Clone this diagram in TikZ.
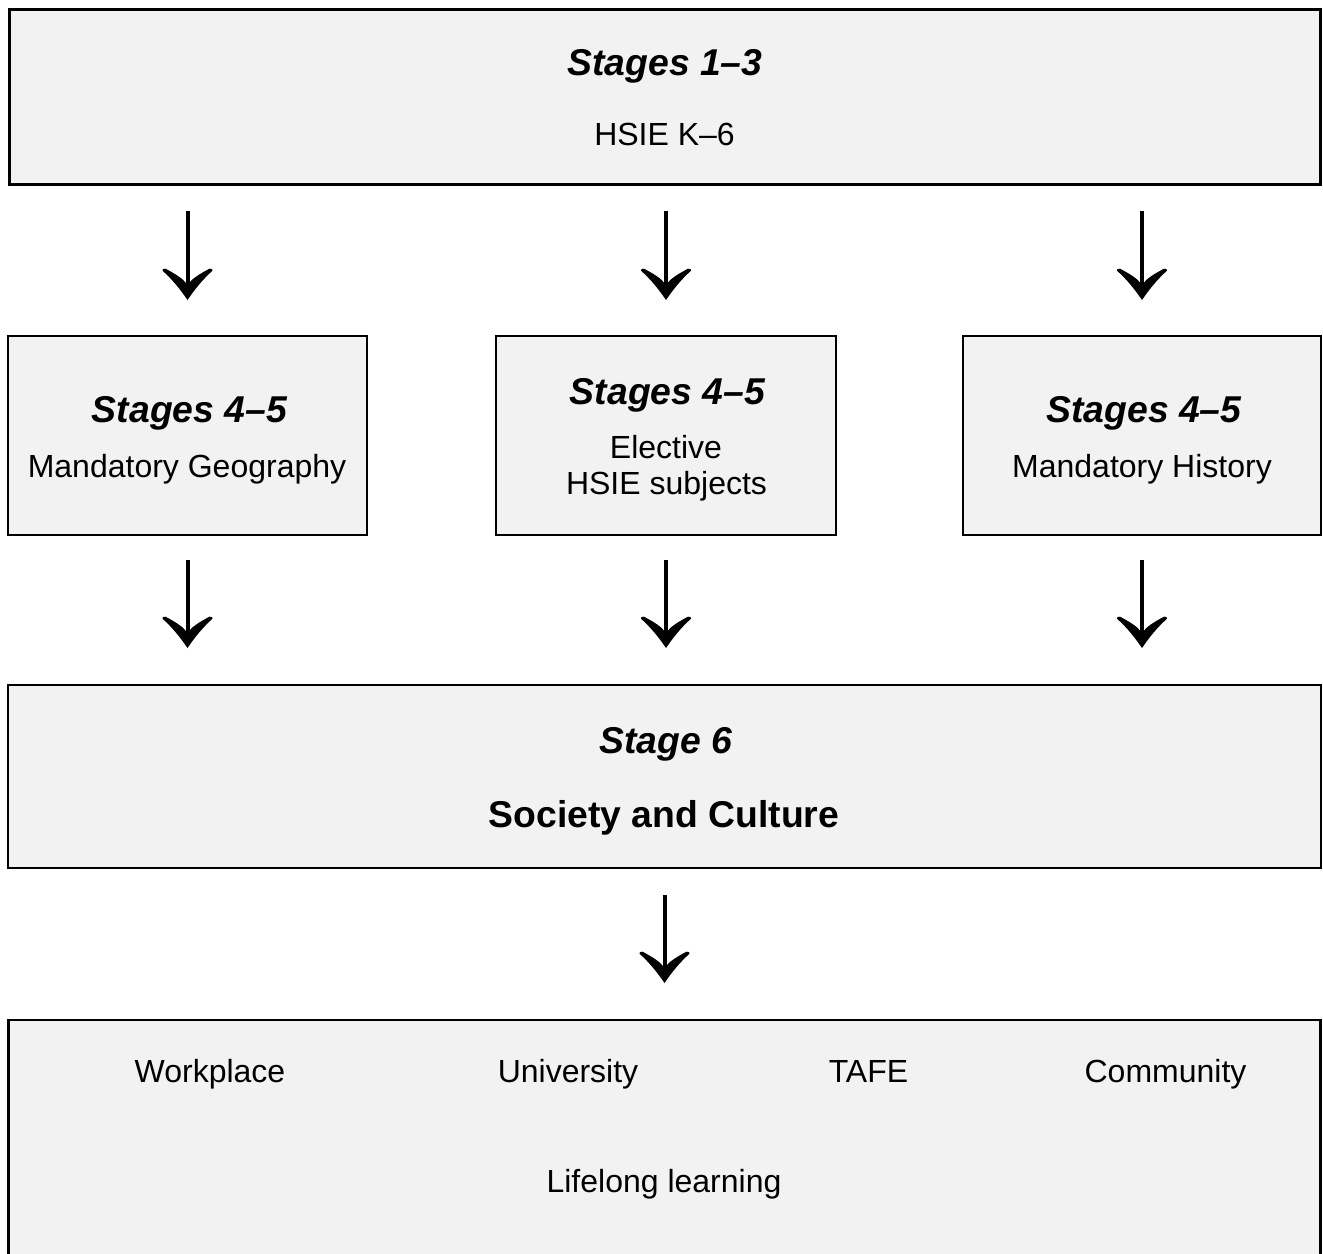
\documentclass[tikz,border=0pt]{standalone}
\usepackage{fontspec}
\setmainfont{Liberation Sans}
\usetikzlibrary{arrows.meta}
\definecolor{boxfill}{HTML}{F2F2F2}
\pgfdeclarearrow{
  name = SymHead,
  setup code = {
    \pgfarrowssettipend{0pt}
    \pgfarrowssetlineend{-11pt}
    \pgfarrowssetbackend{-23.5pt}
    \pgfarrowssetvisualbackend{-13pt}
    \pgfarrowshullpoint{0pt}{0pt}
    \pgfarrowsupperhullpoint{-23.5pt}{19pt}
  },
  drawing code = {
    \pgfpathmoveto{\pgfqpoint{0pt}{0pt}}
    \pgfpathcurveto{\pgfqpoint{-8pt}{5.5pt}}{\pgfqpoint{-15pt}{11pt}}{\pgfqpoint{-22pt}{18.75pt}}
    \pgfpathcurveto{\pgfqpoint{-22.8pt}{19.3pt}}{\pgfqpoint{-23.8pt}{18pt}}{\pgfqpoint{-23.5pt}{16.5pt}}
    \pgfpathcurveto{\pgfqpoint{-20pt}{10pt}}{\pgfqpoint{-16.5pt}{4pt}}{\pgfqpoint{-13pt}{1.5pt}}
    \pgfpathlineto{\pgfqpoint{-13pt}{-1.5pt}}
    \pgfpathcurveto{\pgfqpoint{-16.5pt}{-4pt}}{\pgfqpoint{-20pt}{-10pt}}{\pgfqpoint{-23.5pt}{-16.5pt}}
    \pgfpathcurveto{\pgfqpoint{-23.8pt}{-18pt}}{\pgfqpoint{-22.8pt}{-19.3pt}}{\pgfqpoint{-22pt}{-18.75pt}}
    \pgfpathcurveto{\pgfqpoint{-15pt}{-11pt}}{\pgfqpoint{-8pt}{-5.5pt}}{\pgfqpoint{0pt}{0pt}}
    \pgfpathclose
    \pgfusepathqfill
  }
}
\begin{document}
\begin{tikzpicture}[x=0.75pt, y={(0pt,-0.75pt)},
  box/.style={draw, fill=boxfill, line width=1.6pt, rectangle, outer sep=0pt, inner sep=0pt},
  big/.style={font=\fontsize{28}{33}\selectfont\bfseries\itshape, anchor=base, inner sep=0pt},
  txt/.style={font=\fontsize{24}{27}\selectfont, anchor=base, inner sep=0pt},
  arr/.style={line width=3pt, -SymHead}]
\useasboundingbox (0,0) rectangle (1323,1253);
\clip (0,0) rectangle (1323,1253);
\fill[white] (0,0) rectangle (1323,1253);

% boxes
\node[box, line width=2.25pt, minimum width=983.25pt, minimum height=131.25pt] (top) at (664.5,96.5) {};
\node[box, minimum width=269.25pt, minimum height=149.25pt] (geo) at (187.5,435.5) {};
\node[box, minimum width=255pt, minimum height=149.25pt] (ele) at (666,435.5) {};
\node[box, minimum width=268.5pt, minimum height=149.25pt] (his) at (1142,435.5) {};
\node[box, minimum width=984.75pt, minimum height=137.25pt] (six) at (664.5,776.5) {};
\node[box, minimum width=984pt, minimum height=225pt] (bot) at (664.5,1170) {};

% texts
\node[big] (t1) at (665,75) {Stages 1–3};
\node[txt] (t2) at (664.5,145) {HSIE K–6};
\node[big] (g1) at (189.5,422) {Stages 4–5};
\node[txt] (g2) at (187,477) {Mandatory Geography};
\node[big] (e1) at (667.5,404) {Stages 4–5};
\node[txt] (e2) at (666,458) {Elective};
\node[txt] (e3) at (666.5,494) {HSIE subjects};
\node[big] (h1) at (1144,422) {Stages 4–5};
\node[txt] (h2) at (1142,477) {Mandatory History};
\node[big] (s1) at (665.5,753) {Stage 6};
\node[font=\fontsize{28}{33}\selectfont\bfseries, anchor=base, inner sep=0pt] (s2) at (664,827) {Society and Culture};
\node[txt] (b1) at (210,1082) {Workplace};
\node[txt] (b2) at (568,1082) {University};
\node[txt] (b3) at (868.5,1082) {TAFE};
\node[txt] (b4) at (1165.5,1082) {Community};
\node[txt] (b5) at (664,1192) {Lifelong learning};

% arrows
\draw[arr, shorten <=20.6pt, shorten >=27pt] (top.south -| geo.north) -- (geo.north);
\draw[arr, shorten <=20.6pt, shorten >=27pt] (top.south -| ele.north) -- (ele.north);
\draw[arr, shorten <=20.6pt, shorten >=27pt] (top.south -| his.north) -- (his.north);
\draw[arr, shorten <=18.75pt, shorten >=27.75pt] (geo.south) -- (geo.south |- six.north);
\draw[arr, shorten <=18.75pt, shorten >=27.75pt] (ele.south) -- (ele.south |- six.north);
\draw[arr, shorten <=18.75pt, shorten >=27.75pt] (his.south) -- (his.south |- six.north);
\draw[arr, shorten <=20.25pt, shorten >=27.75pt] (six.south) -- (bot.north);
\end{tikzpicture}
\end{document}
